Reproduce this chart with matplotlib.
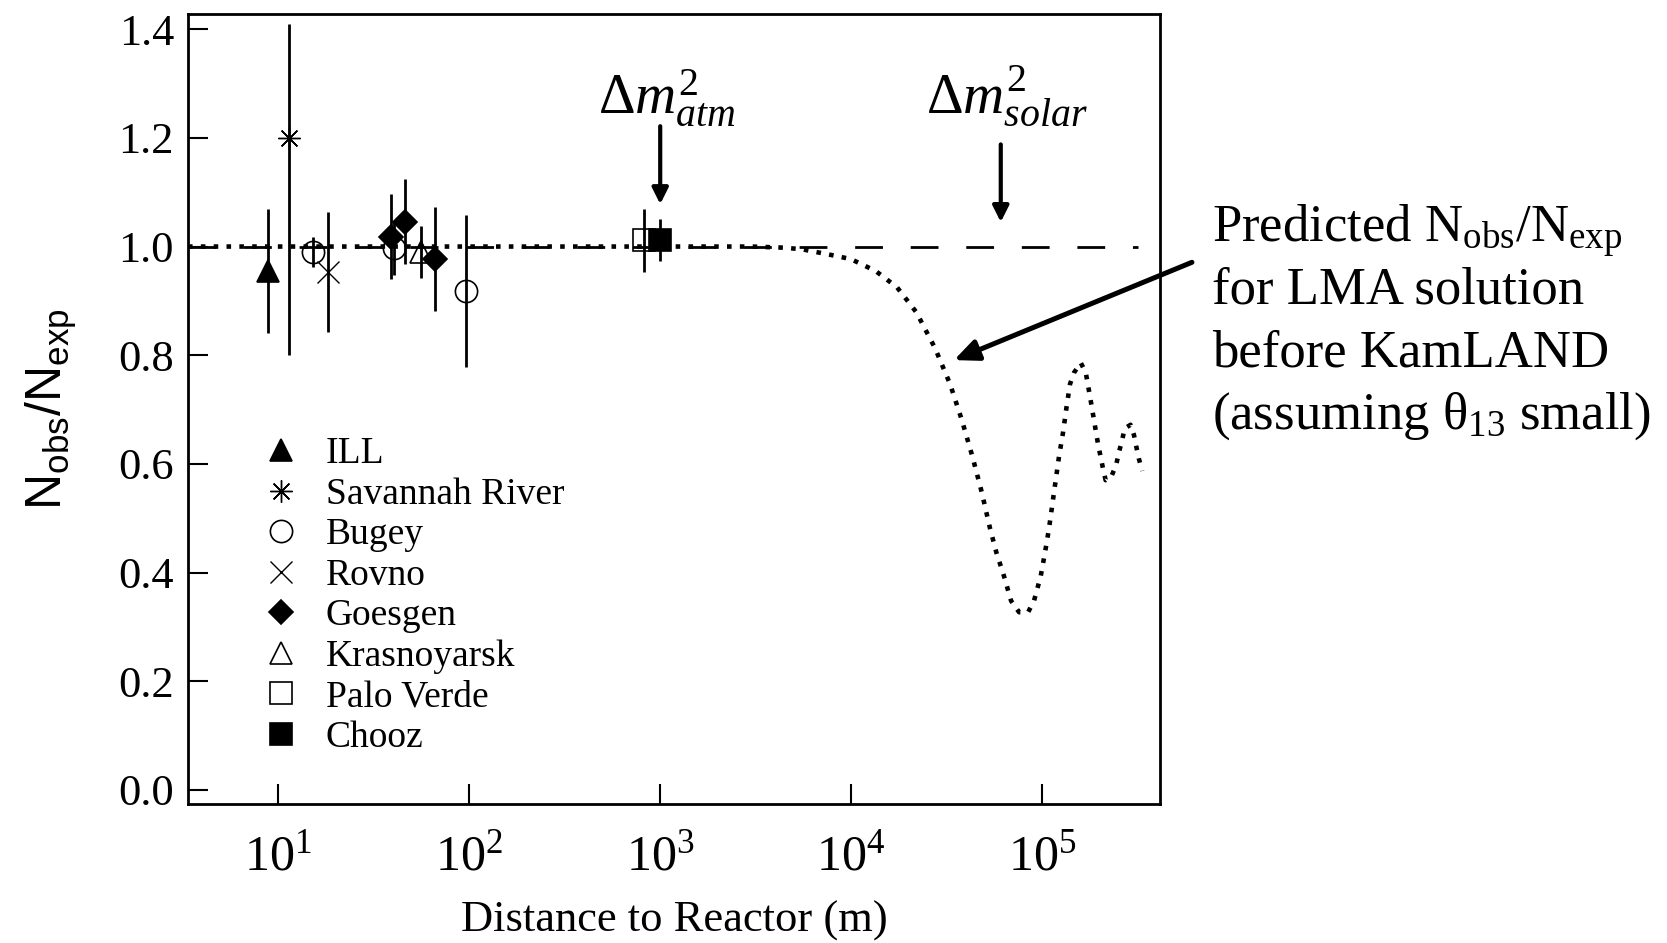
import numpy as np
import matplotlib
matplotlib.use("Agg")
import matplotlib.pyplot as plt
from matplotlib.ticker import FixedLocator, NullLocator, LogFormatterMathtext, FormatStrFormatter

plt.rcParams['font.family'] = ['Liberation Serif', 'DejaVu Serif']
plt.rcParams['mathtext.fontset'] = 'custom'
plt.rcParams['mathtext.rm'] = 'Liberation Serif'
plt.rcParams['mathtext.it'] = 'Liberation Serif:italic'
plt.rcParams['mathtext.bf'] = 'Liberation Serif:bold'

# reactor experiments: distance (m), N_obs/N_exp and its error
ill_L = [8.87]
ill_r = [0.955]
ill_err = [0.115]

sr_L = [11.3]
sr_r = [1.20]
sr_err_lo = [0.40]
sr_err_hi = [0.21]

bugey_L = [15.2, 40.2, 96.6]
bugey_r = [0.990, 0.997, 0.918]
bugey_err = [0.028, 0.050, 0.140]

rovno_L = [18.1]
rovno_r = [0.953]
rovno_err = [0.110]

goesgen_L = [38.8, 46.3, 65.9]
goesgen_r = [1.018, 1.046, 0.977]
goesgen_err = [0.078, 0.078, 0.095]

kras_L = [56.1]
kras_r = [0.990]
kras_err = [0.048]

pv_L = [820.0]
pv_r = [1.012]
pv_err = [0.058]

chooz_L = [1000.0]
chooz_r = [1.012]
chooz_err = [0.038]

# no-oscillation reference line
ref_L = [3.36, 3.2e5]
ref_ratio = [1.0, 1.0]

# predicted LMA curve
lma_L = [3.36, 3000, 4400, 5530, 7480, 9960, 13450, 17400, 21970, 27520, 32980,
         38000, 43150, 48330, 53440, 57660, 63260, 68850, 75850, 84570, 90800,
         98400, 103700, 108800, 115600, 122800, 128900, 134100, 140200, 147200,
         159600, 169500, 178400, 187100, 196400, 208500, 215400, 231500, 244600,
         252700, 263000, 270800, 291000, 303200, 311700, 321900, 335100]
lma_ratio = [1.0, 1.0, 0.998, 0.995, 0.986, 0.977, 0.955, 0.925, 0.879, 0.813, 0.747,
             0.681, 0.614, 0.548, 0.481, 0.437, 0.393, 0.348, 0.327, 0.327, 0.348,
             0.393, 0.437, 0.481, 0.548, 0.614, 0.658, 0.702, 0.747, 0.768,
             0.786, 0.768, 0.724, 0.681, 0.637, 0.592, 0.570, 0.578, 0.598,
             0.621, 0.644, 0.665, 0.672, 0.653, 0.632, 0.609, 0.587]

# marker styles
ms = 16
styles = {
    'ILL': dict(marker='^', mfc='k'),
    'Savannah River': dict(marker=(8, 2, 0), mfc='k', mew=1.0),
    'Bugey': dict(marker='o', mfc='none'),
    'Rovno': dict(marker='x', mfc='k', mew=1.0),
    'Goesgen': dict(marker='D', mfc='k', ms=12),
    'Krasnoyarsk': dict(marker='^', mfc='none'),
    'Palo Verde': dict(marker='s', mfc='none'),
    'Chooz': dict(marker='s', mfc='k'),
}

experiments = [
    ('ILL', ill_L, ill_r, ill_err),
    ('Savannah River', sr_L, sr_r, [sr_err_lo, sr_err_hi]),
    ('Bugey', bugey_L, bugey_r, bugey_err),
    ('Rovno', rovno_L, rovno_r, rovno_err),
    ('Goesgen', goesgen_L, goesgen_r, goesgen_err),
    ('Krasnoyarsk', kras_L, kras_r, kras_err),
    ('Palo Verde', pv_L, pv_r, pv_err),
    ('Chooz', chooz_L, chooz_r, chooz_err),
]

fig = plt.figure(figsize=(16.67, 9.43), dpi=100)
ax = fig.add_axes([188/1667, 139/943, 972/1667, 790/943])

ax.plot(ref_L, ref_ratio, color='k', lw=2.0, linestyle=(0, (10, 10)), zorder=2)
ax.plot(lma_L, lma_ratio, color='k', lw=3.3, linestyle=(0, (1, 1.8)), zorder=2)

for name, L, r, err in experiments:
    st = dict(ms=ms, mew=1.2, mec='k', color='k')
    st.update(styles[name])
    ax.errorbar(L, r, yerr=err, fmt='none', ecolor='k', elinewidth=2.0, capsize=0, zorder=3)
    ax.plot(L, r, linestyle='none', label=name, zorder=4, **st)

# arrows and labels
arrow_small = dict(arrowstyle='-|>,head_length=0.4,head_width=0.2', lw=3, color='k',
                   mutation_scale=24, shrinkA=0, shrinkB=0)
ax.annotate('', xy=(1000, 1.078), xytext=(1000, 1.2215), arrowprops=arrow_small)
ax.annotate('', xy=(60800, 1.045), xytext=(60800, 1.188), arrowprops=arrow_small)
ax.text(473, 1.2436, r'$\Delta m^2_{atm}$', fontsize=41, ha='left', va='baseline')
ax.text(24800, 1.2436, r'$\Delta m^2_{solar}$', fontsize=41, ha='left', va='baseline')

ax.annotate('', xy=(34600, 0.791), xytext=(6.1e5, 0.971), annotation_clip=False,
            arrowprops=dict(arrowstyle='-|>,head_length=0.45,head_width=0.2', lw=3.6,
                            color='k', mutation_scale=32, shrinkA=0, shrinkB=0))

note_lines = [r'Predicted N$_{\mathregular{obs}}$/N$_{\mathregular{exp}}$',
              'for LMA solution',
              'before KamLAND',
              r'(assuming θ$_{\mathregular{13}}$ small)']
note_base = [241.7, 303.3, 366.7, 428.3]
for line, yb in zip(note_lines, note_base):
    fig.text(1211.7/1667, 1 - yb/943, line, fontsize=38, ha='left', va='baseline')

# axes
ax.set_xscale('log')
ax.set_xlim(3.36, 4.15e5)
ax.set_ylim(-0.026, 1.428)
ax.xaxis.set_major_locator(FixedLocator([1e1, 1e2, 1e3, 1e4, 1e5]))
ax.xaxis.set_minor_locator(NullLocator())
ax.xaxis.set_major_formatter(LogFormatterMathtext())
ax.set_yticks(np.arange(0, 1.41, 0.2))
ax.yaxis.set_major_formatter(FormatStrFormatter('%.1f'))
ax.tick_params(direction='in', length=14.4, width=1.5, top=False, right=False)
ax.tick_params(axis='y', labelsize=32, pad=10)
ax.tick_params(axis='x', labelsize=36, pad=22)
for sp in ax.spines.values():
    sp.set_linewidth(2.0)

ax.set_xlabel('Distance to Reactor (m)', fontsize=32)
ax.xaxis.set_label_coords(0.5, -0.122)
ax.set_ylabel(r'$\mathregular{N_{obs}/N_{exp}}$', fontsize=36, fontfamily='Liberation Sans')
ax.yaxis.set_label_coords(-0.112, 0.5)

ax.legend(loc='upper left', bbox_to_anchor=(0.0761, 0.465), frameon=False, fontsize=27,
          handlelength=1.0, handletextpad=0.7, labelspacing=0.16, borderpad=0,
          borderaxespad=0, numpoints=1)

fig.savefig('out.png', dpi=100)
